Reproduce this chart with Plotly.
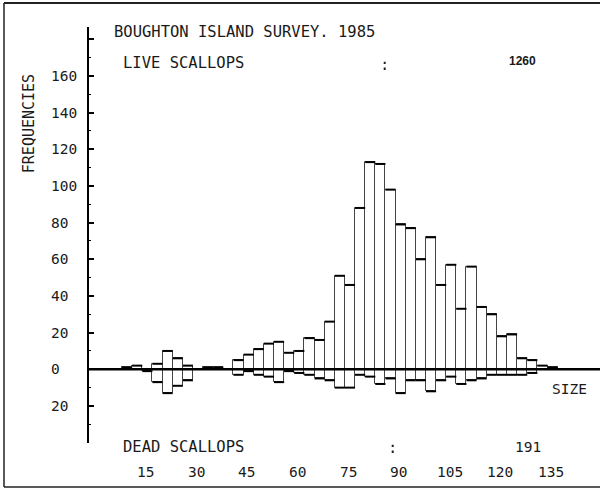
import plotly.graph_objects as go

# Size classes (lower bound of each 3 mm class) and counts
size_lower = [8, 11, 14, 17, 20, 23, 26, 29, 32, 35, 38,
              41, 44, 47, 50, 53, 56, 59, 62, 65, 68,
              71, 74, 77, 80, 83, 86, 89, 92, 95, 98,
              101, 104, 107, 110, 113, 116, 119, 122, 125, 128, 131, 134]
live_counts = [1, 2, 0, 3, 10, 6, 2, 0, 1, 1, 0,
               5, 8, 11, 14, 15, 9, 10, 17, 16, 26,
               51, 46, 88, 113, 112, 98, 79, 77, 60, 72,
               46, 57, 33, 56, 34, 30, 18, 19, 6, 5, 2, 1]
dead_counts = [0, 0, 1, 7, 13, 9, 6, 0, 0, 0, 0,
               3, 1, 3, 4, 7, 1, 2, 3, 5, 6,
               10, 10, 3, 4, 8, 5, 13, 6, 6, 12,
               6, 4, 8, 6, 5, 3, 3, 3, 3, 2, 0, 0]
class_width = 3

x_tick_values = [15, 30, 45, 60, 75, 90, 105, 120, 135]
y_tick_values = [-20, 0, 20, 40, 60, 80, 100, 120, 140, 160]

# Page geometry (pixels)
W, H = 600, 489
ML, MR, MT, MB = 89, 0, 27, 46
PW, PH = W - ML - MR, H - MT - MB


def px(p):
    return (p - ML) / PW


def py(p):
    return (H - MB - p) / PH


FONT = "DejaVu Sans Mono"
INK = "#1a1a1a"

centers = [s + class_width / 2 for s in size_lower]

fig = go.Figure()
fig.add_trace(go.Bar(x=centers, y=live_counts, width=class_width,
                     marker=dict(color="white", line=dict(color="#444", width=1)),
                     hoverinfo="skip"))
fig.add_trace(go.Bar(x=centers, y=[-d for d in dead_counts], width=class_width,
                     marker=dict(color="white", line=dict(color="#444", width=1)),
                     hoverinfo="skip"))


# heavier horizontal tops on every bar
def tops(values, sign):
    xs, ys = [], []
    for s, v in zip(size_lower, values):
        if v > 0:
            xs += [s, s + class_width, None]
            ys += [sign * v, sign * v, None]
    return xs, ys


for vals, sgn in ((live_counts, 1), (dead_counts, -1)):
    tx, ty = tops(vals, sgn)
    fig.add_trace(go.Scatter(x=tx, y=ty, mode="lines",
                             line=dict(color="black", width=2),
                             hoverinfo="skip"))

annotations = []


def text(x, y, s, size=15.5, xanchor="left", xref="paper", yref="paper",
         angle=0, family=FONT, bold=False):
    annotations.append(dict(
        x=x, y=y, xref=xref, yref=yref, text=f"<b>{s}</b>" if bold else s,
        showarrow=False, xanchor=xanchor, yanchor="middle", textangle=angle,
        font=dict(family=family, size=size, color=INK)))


text(px(112), py(32.3), "BOUGHTON ISLAND SURVEY. 1985")
text(px(120.5), py(63.3), "LIVE SCALLOPS")
text(px(384), py(65), ":", xanchor="center")
text(px(522.7), py(60.5), str(sum(live_counts)), size=12, xanchor="center",
     family="Liberation Sans", bold=True)
text(px(120.5), py(446.7), "DEAD SCALLOPS")
text(px(392), py(448), ":", xanchor="center")
text(px(527.5), py(447.3), str(sum(dead_counts)), size=14.5, xanchor="center")
text(px(28.7), py(123.5), "FREQUENCIES", size=15, xanchor="center", angle=-90)
text(px(569), py(389), "SIZE", size=14.5, xanchor="center")

for v in y_tick_values:
    text(px(48.5), v, str(abs(v)), size=14.5, yref="y")
for v in x_tick_values:
    text(v, py(471.7), str(v), size=14.5, xanchor="center", xref="x")

shapes = [
    # zero baseline
    dict(type="line", xref="paper", yref="y", x0=0, x1=1, y0=0, y1=0,
         line=dict(color="black", width=2.5), layer="above"),
    # page frame
    dict(type="line", xref="paper", yref="paper", x0=px(4), x1=px(4),
         y0=py(3), y1=py(487), line=dict(color="#222", width=1.5)),
    dict(type="line", xref="paper", yref="paper", x0=px(4), x1=1.01,
         y0=py(3), y1=py(3), line=dict(color="#222", width=2)),
    dict(type="line", xref="paper", yref="paper", x0=px(4), x1=1.01,
         y0=py(487), y1=py(487), line=dict(color="#222", width=1.5)),
]

fig.update_layout(
    width=W, height=H,
    margin=dict(l=ML, r=MR, t=MT, b=MB, pad=0),
    paper_bgcolor="white", plot_bgcolor="white",
    showlegend=False, barmode="relative", bargap=0,
    annotations=annotations, shapes=shapes,
    xaxis=dict(range=[-1.78, 149.54], showgrid=False, zeroline=False,
               showline=False, ticks="", showticklabels=False, fixedrange=True),
    yaxis=dict(range=[-40.2, 186.7], showgrid=False, zeroline=False,
               showline=True, linecolor="black", linewidth=1.5,
               ticks="inside", tickmode="linear", tick0=0, dtick=20,
               ticklen=5, tickwidth=1.5, tickcolor="black",
               showticklabels=False, layer="above traces",
               minor=dict(ticks="inside", ticklen=2.5, tickwidth=1,
                          tickcolor="black", dtick=10, tick0=0),
               fixedrange=True),
)

fig.write_html("out.html")
